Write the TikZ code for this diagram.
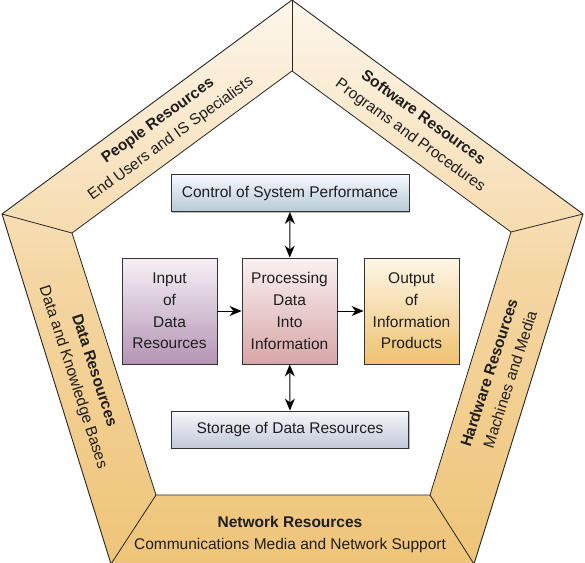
\documentclass[tikz,border=0pt]{standalone}
\usepackage{fontspec}
\setmainfont{Liberation Sans}
\usetikzlibrary{arrows.meta,shadows}

\definecolor{ringtop}{HTML}{FDF6EB}
\definecolor{ringmid}{HTML}{F5D6A2}
\definecolor{ringbot}{HTML}{EEC478}
\definecolor{inktext}{HTML}{1E1E1E}

\begin{document}
\begin{tikzpicture}[x=1pt,y=-1pt,
		box/.style={draw=black!80,line width=0.9pt,text=inktext,align=center,
			font=\fontsize{15.5}{21.7}\selectfont,
			drop shadow={shadow xshift=1.2pt,shadow yshift=-1.2pt,fill=black!45,opacity=0.6}},
		band/.style={text=inktext,align=center,font=\fontsize{15.5}{22}\selectfont},
		link/.style={line width=1pt}]
	\useasboundingbox (0,0) rectangle (585,562);

	\coordinate (o1) at (292,0);
	\coordinate (o2) at (583,214);
	\coordinate (o3) at (474,564);
	\coordinate (o4) at (111,564);
	\coordinate (o5) at (2,214);
	\coordinate (i1) at (292,71);
	\coordinate (i2) at (511,232);
	\coordinate (i3) at (430,495);
	\coordinate (i4) at (156,495);
	\coordinate (i5) at (72,233);

	\shade[top color=ringtop,bottom color=ringbot,middle color=ringmid] (o1) -- (o2) -- (o3) -- (o4) -- (o5) -- cycle;
	\fill[white] (i1) -- (i2) -- (i3) -- (i4) -- (i5) -- cycle;
	\draw[line width=0.9pt,black!85] (o1) -- (o2) -- (o3) -- (o4) -- (o5) -- cycle;
	\draw[line width=0.8pt,black!85] (i1) -- (i2) -- (i3) -- (i4) -- (i5) -- cycle;
	\foreach \k in {1,...,5}
		\draw[line width=0.8pt,black!85] (o\k) -- (i\k);

	\node[band,rotate=36] (people) at (164.5,130) {\textbf{People Resources}\\End Users and IS Specialists};
	\node[band,rotate=-36] (software) at (416.5,127) {\textbf{Software Resources}\\Programs and Procedures};
	\node[band,rotate=-72] (data) at (83,374) {\textbf{Data Resources}\\Data and Knowledge Bases};
	\node[band,rotate=72] (hardware) at (499.5,376) {\textbf{Hardware Resources}\\Machines and Media};
	\node[band] (network) at (290,534) {\textbf{Network Resources}\\Communications Media and Network Support};

	\node[box,minimum width=238pt,minimum height=37pt,top color=blue!3!white,bottom color={rgb,255:red,181;green,203;blue,214}] (ctrl) at (290,193) {Control of System Performance};
	\node[box,minimum width=237pt,minimum height=37pt,top color={rgb,255:red,247;green,247;blue,251},bottom color={rgb,255:red,194;green,200;blue,218}] (store) at (290,429.5) {Storage of Data Resources};
	\node[box,minimum width=95pt,minimum height=106pt,top color={rgb,255:red,246;green,241;blue,246},bottom color={rgb,255:red,181;green,148;blue,181}] (input) at (169.5,311) {Input\\of\\Data\\Resources};
	\node[box,minimum width=95pt,minimum height=106pt,top color={rgb,255:red,250;green,241;blue,241},bottom color={rgb,255:red,216;green,166;blue,168}] (proc) at (289.5,311) {Processing\\Data\\Into\\Information};
	\node[box,minimum width=95pt,minimum height=106pt,top color={rgb,255:red,254;green,246;blue,231},bottom color={rgb,255:red,238;green,194;blue,113}] (output) at (411.5,311) {Output\\of\\Information\\Products};

	\draw[link,-{Stealth[length=12pt,width=10pt]}] (input) -- (proc);
	\draw[link,-{Stealth[length=12pt,width=10pt]}] (proc) -- (output);
	\draw[link,{Stealth[length=12pt,width=10pt]}-{Stealth[length=12pt,width=10pt]}] (ctrl) -- (proc);
	\draw[link,{Stealth[length=12pt,width=10pt]}-{Stealth[length=12pt,width=10pt]}] (proc) -- (store);
\end{tikzpicture}
\end{document}
